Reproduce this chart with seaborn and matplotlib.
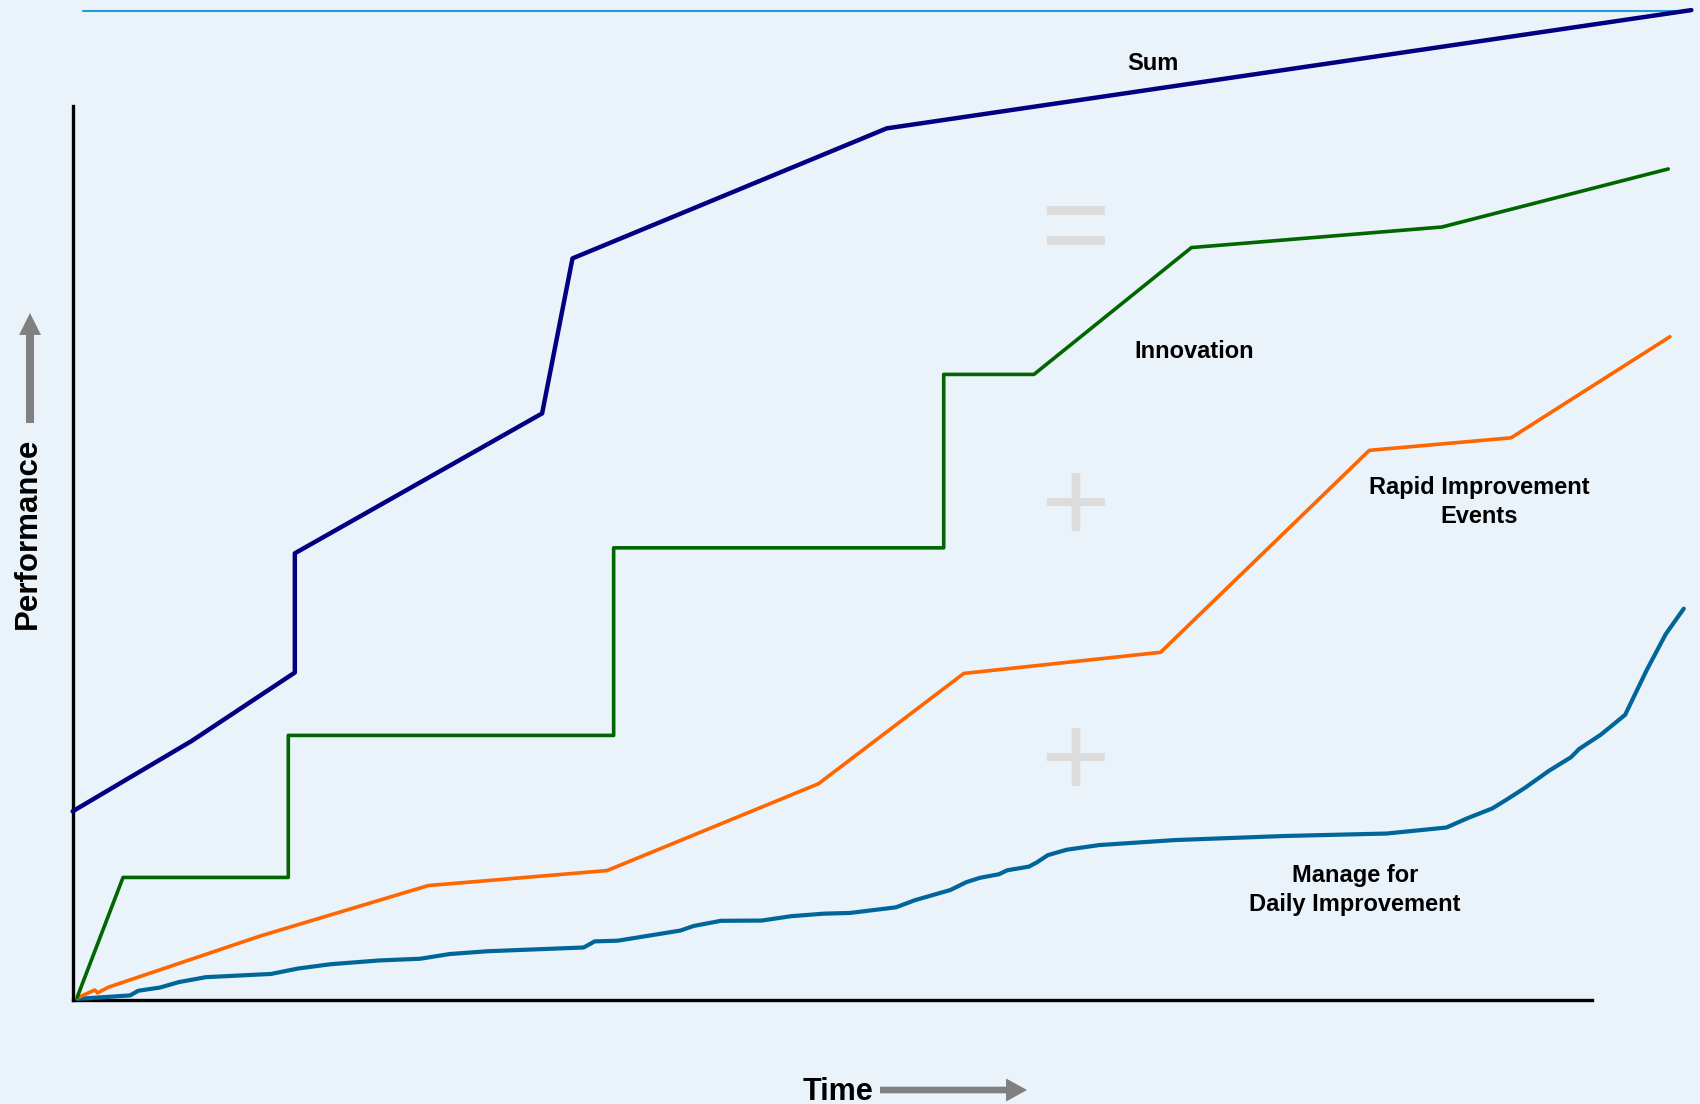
import matplotlib
matplotlib.use("Agg")
import matplotlib.pyplot as plt
import pandas as pd
import seaborn as sns

# ---------------- data (time 0-100 along the x axis, performance 0-100 up the y axis) -------------
sum_x = [0.0, 7.85, 14.63, 14.63, 30.91, 32.91, 53.60, 106.57]
sum_y = [21.09, 28.97, 36.61, 49.94, 65.58, 82.91, 97.45, 110.67]

innov_x = [0.3, 3.32, 14.20, 14.20, 35.62, 35.62, 57.35, 57.35, 63.29, 73.66, 90.15, 105.05]
innov_y = [0.3, 13.70, 13.70, 29.58, 29.58, 50.55, 50.55, 69.94, 69.94, 84.12, 86.42, 92.91]

rie_x = [0.32, 1.46, 1.64, 2.36, 12.35, 23.41, 35.19, 49.10, 58.67, 71.63, 85.37, 94.70, 105.16]
rie_y = [0.23, 1.12, 0.79, 1.43, 7.15, 12.79, 14.47, 24.17, 36.51, 38.87, 61.45, 62.85, 74.15]

mdi_x = [0.3, 3.78, 4.32, 5.75, 7.00, 8.78, 13.06, 14.85, 16.99, 20.20, 22.88, 24.84, 27.34,
         33.65, 34.37, 35.90, 40.01, 40.90, 42.68, 45.36, 47.32, 49.46, 51.18, 54.21, 55.46,
         57.78, 58.85, 59.74, 60.99, 61.53, 62.96, 63.49, 64.20, 65.45, 67.59, 72.59, 79.73,
         86.51, 90.44, 91.86, 93.47, 94.36, 95.61, 97.22, 98.64, 99.18, 100.61, 102.21,
         103.64, 104.89, 106.07]
mdi_y = [0.12, 0.51, 1.03, 1.39, 2.00, 2.55, 2.91, 3.52, 4.00, 4.42, 4.61, 5.14, 5.45,
         5.87, 6.55, 6.63, 7.76, 8.28, 8.85, 8.88, 9.37, 9.65, 9.73, 10.36, 11.16,
         12.29, 13.18, 13.66, 14.06, 14.50, 14.91, 15.39, 16.19, 16.80, 17.32, 17.88, 18.33,
         18.61, 19.28, 20.34, 21.42, 22.35, 23.71, 25.65, 27.13, 28.06, 29.66, 31.88,
         36.91, 40.92, 43.75]

target_x = [0.71, 106.5]
target_y = [110.55, 110.55]

series_names = ["Sum", "Innovation", "Rapid Improvement\nEvents", "Manage for\nDaily Improvement"]
label_x = [71.15, 73.83, 92.62, 84.44]
label_y = [104.0, 71.75, 53.38, 9.96]   # baseline of the last line of each label

op_symbols = ["=", "+", "+"]
op_x = [65.99, 65.99, 65.99]
op_y = [82.2, 51.37, 22.77]

# ---------------- styling ----------------
BG = "#EAF2FA"
sns.set_theme(style="white")
plt.rcParams["font.family"] = ["Liberation Sans", "DejaVu Sans"]

fig = plt.figure(figsize=(17, 11.04), dpi=100, facecolor=BG)
ax = fig.add_axes([0, 0, 1, 1])
ax.set_facecolor(BG)

def draw(xs, ys, color, lw, z=3):
    df = pd.DataFrame({"time": xs, "performance": ys})
    sns.lineplot(data=df, x="time", y="performance", sort=False, estimator=None,
                 color=color, linewidth=lw, ax=ax, zorder=z)

draw(target_x, target_y, "#2399D6", 1.5, z=2)
draw(mdi_x, mdi_y, "#006699", 3.0)
draw(rie_x, rie_y, "#FF6600", 2.6)
draw(innov_x, innov_y, "#006600", 2.6)
draw(sum_x, sum_y, "#000080", 3.2)

ax.set_xlim(-4.78, 107.14)
ax.set_ylim(-11.63, 111.8)
ax.set_xticks([])
ax.set_yticks([])
ax.set_xlabel("")
ax.set_ylabel("")

for side in ["top", "right"]:
    ax.spines[side].set_visible(False)
for side in ["left", "bottom"]:
    sp = ax.spines[side]
    sp.set_visible(True)
    sp.set_color("black")
    sp.set_linewidth(2.4)
    sp.set_position(("data", 0))
    sp.set_bounds(0, 100)
    sp.set_zorder(2.5)

for name, lx, ly in zip(series_names, label_x, label_y):
    ax.text(lx, ly, name, ha="center", va="baseline", fontsize=17,
            fontweight="bold", color="black", linespacing=1.3, zorder=5)

for s, sx, sy in zip(op_symbols, op_x, op_y):
    ax.text(sx, sy, s, ha="center", va="baseline", fontsize=86,
            color="#DCDCDC", zorder=1)

# axis titles with arrows
fig.text(838 / 1700, 4 / 1104, "Time", ha="center", va="baseline",
         fontsize=22, fontweight="bold", color="black")
fig.text(35.5 / 1700, 571 / 1104, "Performance", ha="center", va="baseline",
         rotation=90, rotation_mode="anchor", fontsize=22.5,
         fontweight="bold", color="black")

ax.annotate("", xy=(1027, 14), xytext=(880, 14), xycoords="figure pixels",
            textcoords="figure pixels",
            arrowprops=dict(arrowstyle="simple,head_length=1.51,head_width=1.66,tail_width=0.48",
                            fc="#808080", ec="none", shrinkA=0, shrinkB=0,
                            mutation_scale=10))
ax.annotate("", xy=(30, 791), xytext=(30, 681), xycoords="figure pixels",
            textcoords="figure pixels",
            arrowprops=dict(arrowstyle="simple,head_length=1.58,head_width=1.58,tail_width=0.58",
                            fc="#808080", ec="none", shrinkA=0, shrinkB=0,
                            mutation_scale=10))

fig.savefig("out.png", dpi=100, facecolor=BG)
